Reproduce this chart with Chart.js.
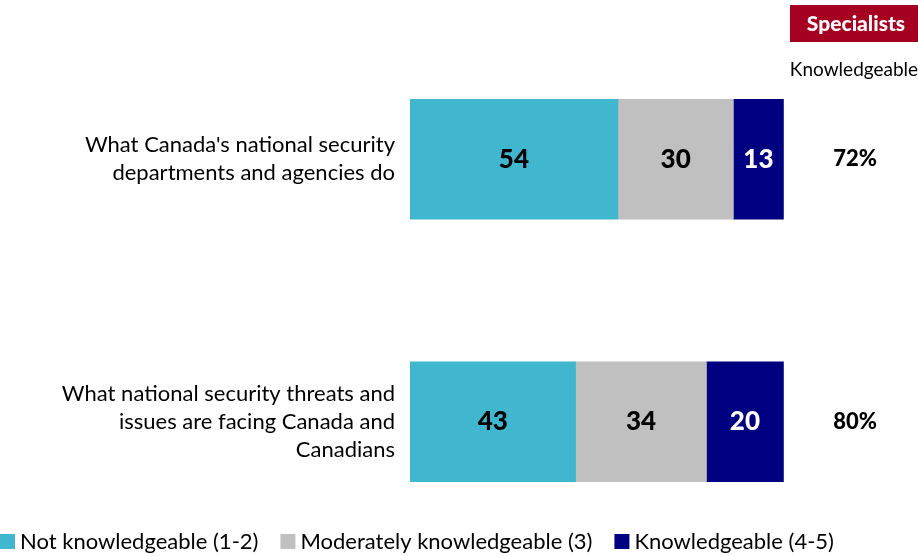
<!DOCTYPE html>
<html lang="en">
<head>
<meta charset="UTF-8">
<title>Knowledge of national security</title>
<script src="https://cdn.jsdelivr.net/npm/chart.js"></script>
<style>
    body { margin: 0; background: #fff; }
    #wrap { width: 918px; height: 556px; position: relative; }
</style>
</head>
<body>
<div id="wrap"><canvas id="chart" width="918" height="556"></canvas></div>
<script>
const categories = [
    ["What Canada's national security", "departments and agencies do"],
    ["What national security threats and", "issues are facing Canada and", "Canadians"]
];
const notKnowledgeable = [54, 43];
const moderately = [30, 34];
const knowledgeable = [13, 20];
const totals = ['72%', '80%'];
const seriesNames = ['Not knowledgeable (1-2)', 'Moderately knowledgeable (3)', 'Knowledgeable (4-5)'];
const colors = ['#40B7CE', '#C0C0C0', '#000080'];
const labelColors = ['#000', '#000', '#fff'];

const FONT = 'Lato, "Open Sans", sans-serif';

const extras = {
    id: 'extras',
    afterDatasetsDraw(chart) {
        const ctx = chart.ctx;
        const y = chart.scales.y;
        ctx.save();

        // values inside segments
        chart.data.datasets.forEach((ds, i) => {
            chart.getDatasetMeta(i).data.forEach((bar, j) => {
                const left = Math.min(bar.base, bar.x);
                const mid = left + Math.abs(bar.x - bar.base) / 2;
                ctx.fillStyle = labelColors[i];
                ctx.font = '900 26px ' + FONT;
                ctx.textAlign = 'center';
                ctx.textBaseline = 'middle';
                ctx.fillText(ds.data[j], mid, bar.y);
            });
        });

        // category labels and totals
        categories.forEach((lines, j) => {
            const cy = y.getPixelForValue(j);
            ctx.fillStyle = '#000';
            ctx.font = '22px ' + FONT;
            ctx.textAlign = 'right';
            ctx.textBaseline = 'middle';
            const lh = 28;
            lines.forEach((t, k) => {
                ctx.fillText(t, 395, cy + (k - (lines.length - 1) / 2) * lh);
            });
            ctx.font = '900 22px ' + FONT;
            ctx.textAlign = 'center';
            ctx.fillText(totals[j], 855, cy);
        });

        // header box
        ctx.fillStyle = '#A50021';
        ctx.fillRect(790, 5, 128, 37);
        ctx.fillStyle = '#fff';
        ctx.font = '900 21px ' + FONT;
        ctx.textAlign = 'center';
        ctx.textBaseline = 'middle';
        ctx.fillText('Specialists', 856, 24);
        ctx.fillStyle = '#000';
        ctx.font = '19px ' + FONT;
        ctx.fillText('Knowledgeable', 854, 70);

        // legend
        ctx.font = '22px ' + FONT;
        ctx.textAlign = 'left';
        let x = 0;
        seriesNames.forEach((name, i) => {
            ctx.fillStyle = colors[i];
            ctx.fillRect(x, 534, 15, 15);
            ctx.fillStyle = '#000';
            ctx.fillText(name, x + 20, 542);
            x += 20 + ctx.measureText(name).width + 22;
        });
        ctx.restore();
    }
};

new Chart(document.getElementById('chart'), {
    type: 'bar',
    data: {
        labels: categories,
        datasets: [
            { label: seriesNames[0], data: notKnowledgeable, backgroundColor: colors[0] },
            { label: seriesNames[1], data: moderately, backgroundColor: colors[1] },
            { label: seriesNames[2], data: knowledgeable, backgroundColor: colors[2] }
        ]
    },
    options: {
        indexAxis: 'y',
        responsive: false,
        animation: false,
        layout: { padding: { left: 410, right: 123, top: 28, bottom: 3 } },
        datasets: { bar: { barThickness: 120, borderWidth: 0 } },
        scales: {
            x: { stacked: true, min: 0, max: 100, display: false },
            y: { stacked: true, display: false }
        },
        plugins: { legend: { display: false }, tooltip: { enabled: false } }
    },
    plugins: [extras]
});
</script>
</body>
</html>
